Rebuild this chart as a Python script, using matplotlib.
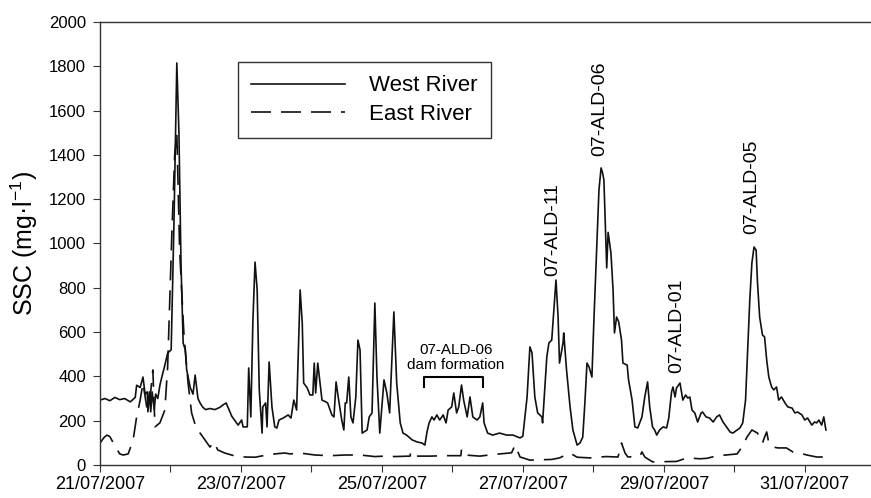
import matplotlib
matplotlib.use('Agg')
import numpy as np
import matplotlib.pyplot as plt

plt.rcParams['font.family'] = ['Liberation Sans', 'DejaVu Sans']
plt.rcParams['mathtext.fontset'] = 'custom'
plt.rcParams['mathtext.rm'] = 'Liberation Sans'
plt.rcParams['mathtext.it'] = 'Liberation Sans:italic'

# time in days since 21/07/2007 00:00, SSC in mg/l
west_t = [0.00, 0.07, 0.14, 0.21, 0.28, 0.35, 0.43, 0.50, 0.52, 0.57, 0.61, 0.64, 0.67, 0.68,
          0.70, 0.72, 0.74, 0.77, 0.79, 0.82, 0.85, 0.88, 0.92, 0.96, 1.01, 1.05, 1.09, 1.12,
          1.15, 1.18, 1.21, 1.23, 1.28, 1.32, 1.35, 1.39, 1.42, 1.46, 1.50, 1.56, 1.63, 1.70,
          1.74, 1.79, 1.83, 1.87, 1.96, 2.01, 2.03, 2.09, 2.11, 2.14, 2.17, 2.20, 2.23, 2.26,
          2.30, 2.31, 2.35, 2.37, 2.40, 2.44, 2.48, 2.51, 2.54, 2.60, 2.67, 2.71, 2.75, 2.79,
          2.84, 2.87, 2.89, 2.94, 2.98, 3.02, 3.04, 3.06, 3.09, 3.15, 3.21, 3.23, 3.29, 3.32,
          3.35, 3.38, 3.43, 3.46, 3.48, 3.50, 3.53, 3.56, 3.59, 3.63, 3.66, 3.69, 3.72, 3.79,
          3.82, 3.86, 3.90, 3.93, 3.97, 4.03, 4.07, 4.11, 4.17, 4.21, 4.26, 4.30, 4.35, 4.43,
          4.50, 4.57, 4.61, 4.64, 4.67, 4.71, 4.74, 4.78, 4.82, 4.87, 4.91, 4.94, 4.99, 5.02,
          5.06, 5.09, 5.13, 5.16, 5.21, 5.25, 5.29, 5.35, 5.39, 5.43, 5.45, 5.50, 5.57, 5.67,
          5.77, 5.86, 5.96, 6.00, 6.06, 6.10, 6.13, 6.17, 6.21, 6.27, 6.28, 6.31, 6.34, 6.37,
          6.41, 6.44, 6.47, 6.50, 6.52, 6.57, 6.58, 6.62, 6.67, 6.71, 6.77, 6.81, 6.85, 6.88,
          6.91, 6.94, 6.98, 7.01, 7.05, 7.08, 7.11, 7.13, 7.15, 7.18, 7.19, 7.21, 7.25, 7.28,
          7.30, 7.33, 7.36, 7.40, 7.42, 7.48, 7.50, 7.55, 7.59, 7.63, 7.69, 7.73, 7.77, 7.80,
          7.84, 7.87, 7.90, 7.94, 7.99, 8.04, 8.07, 8.11, 8.13, 8.16, 8.18, 8.23, 8.27, 8.31,
          8.34, 8.37, 8.40, 8.44, 8.48, 8.53, 8.55, 8.60, 8.65, 8.70, 8.75, 8.79, 8.84, 8.89,
          8.94, 8.98, 9.04, 9.08, 9.12, 9.16, 9.19, 9.22, 9.25, 9.28, 9.31, 9.33, 9.36, 9.40,
          9.43, 9.46, 9.49, 9.53, 9.56, 9.60, 9.63, 9.67, 9.72, 9.76, 9.82, 9.86, 9.90, 9.96,
          10.00, 10.04, 10.10, 10.14, 10.17, 10.20, 10.24, 10.27, 10.30]
west_ssc = [293, 300, 290, 305, 295, 300, 285, 305, 360, 350, 397, 320, 330, 240,
            330, 240, 330, 250, 320, 300, 360, 400, 450, 505, 520, 1100, 1815, 1500,
            900, 550, 520, 430, 350, 320, 406, 300, 280, 260, 250, 255, 250, 260,
            270, 280, 250, 220, 180, 203, 172, 172, 438, 217, 655, 916, 790, 339,
            144, 262, 280, 172, 465, 262, 172, 167, 203, 212, 226, 212, 293, 248,
            790, 641, 370, 348, 316, 316, 460, 325, 460, 293, 284, 280, 226, 217,
            375, 307, 203, 158, 280, 280, 397, 217, 190, 307, 564, 519, 144, 158,
            217, 235, 731, 397, 144, 384, 325, 235, 691, 370, 190, 144, 135, 113,
            104, 99, 90, 149, 190, 217, 203, 226, 203, 226, 190, 248, 262, 325,
            235, 262, 361, 293, 217, 307, 217, 203, 217, 280, 190, 144, 135, 144,
            135, 135, 122, 130, 307, 533, 506, 307, 235, 217, 190, 339, 488, 551,
            564, 700, 835, 668, 460, 551, 596, 429, 262, 158, 90, 99, 126, 280,
            460, 442, 397, 668, 1002, 1242, 1341, 1320, 1287, 1000, 890, 1050, 957, 790,
            596, 668, 646, 564, 460, 451, 384, 293, 172, 167, 217, 307, 375, 262,
            172, 158, 135, 158, 172, 167, 212, 330, 352, 307, 348, 370, 293, 316,
            302, 307, 248, 235, 194, 235, 239, 217, 212, 194, 217, 226, 194, 172,
            149, 144, 158, 167, 190, 293, 519, 745, 912, 984, 970, 821, 668, 587,
            578, 474, 397, 352, 339, 352, 293, 307, 280, 262, 257, 235, 239, 226,
            203, 212, 180, 194, 190, 203, 180, 217, 158]

east_t = [0.00, 0.06, 0.10, 0.14, 0.18, 0.23, 0.28, 0.33, 0.40, 0.47, 0.52, 0.57, 0.61, 0.67,
          0.71, 0.75, 0.78, 0.85, 0.92, 0.96, 1.02, 1.06, 1.09, 1.13, 1.19, 1.25, 1.30, 1.36,
          1.42, 1.49, 1.56, 1.62, 1.67, 1.77, 1.91, 2.06, 2.20, 2.30, 2.48, 2.62, 2.70, 2.84,
          3.05, 3.26, 3.48, 3.69, 3.90, 4.04, 4.18, 4.40, 4.41, 4.45, 4.68, 4.89, 5.12, 5.13,
          5.18, 5.39, 5.60, 5.74, 5.84, 5.89, 5.96, 6.10, 6.41, 6.52, 6.67, 6.77, 6.95, 7.18,
          7.35, 7.40, 7.45, 7.49, 7.66, 7.69, 7.73, 7.84, 8.18, 8.33, 8.51, 8.61, 8.75, 9.04,
          9.11, 9.18, 9.25, 9.33, 9.40, 9.43, 9.46, 9.49, 9.55, 9.62, 9.74, 9.83, 9.93, 10.03,
          10.17, 10.31]
east_ssc = [99, 125, 135, 128, 105, 77, 50, 45, 50, 113, 217, 293, 370, 248,
            300, 429, 172, 190, 248, 443, 1047, 1400, 1500, 970, 596, 370, 235, 172,
            144, 113, 81, 104, 68, 54, 41, 36, 35, 41, 50, 54, 50, 54,
            45, 42, 45, 45, 38, 40, 38, 40, 59, 40, 40, 42, 42, 72,
            45, 40, 48, 52, 55, 90, 36, 22, 25, 32, 54, 35, 32, 38,
            36, 99, 54, 36, 40, 59, 36, 14, 16, 32, 28, 30, 41, 50,
            81, 126, 158, 144, 99, 126, 149, 99, 81, 77, 77, 59, 54, 45,
            36, 36]

tick_days = list(range(11))
tick_labels = ['21/07/2007', '', '23/07/2007', '', '25/07/2007', '', '27/07/2007', '',
               '29/07/2007', '', '31/07/2007']

# event labels: text, day, bottom of text (mg/l)
event_names = ['07-ALD-11', '07-ALD-06', '07-ALD-01', '07-ALD-05']
event_days = [6.43, 7.09, 8.18, 9.25]
event_y = [855, 1395, 415, 1043]

fig = plt.figure(figsize=(8.71, 4.98), dpi=100)
ax = fig.add_axes([0.1148, 0.0663, 0.8852, 0.8896])

ax.plot(west_t, west_ssc, color='#111111', lw=1.2, label='West River')
ax.plot(east_t, east_ssc, color='#111111', lw=1.2, dashes=(12, 6), label='East River')

ax.set_xlim(0, 10.94)
ax.set_ylim(0, 2000)
ax.set_yticks(np.arange(0, 2001, 200))
ax.set_xticks(tick_days)
ax.set_xticklabels(tick_labels)
ax.tick_params(axis='y', labelsize=12, length=5, pad=5, color='#333333')
ax.tick_params(axis='x', labelsize=13, length=5, pad=3, color='#333333')

for s in ['left', 'top', 'bottom']:
    ax.spines[s].set_color('#333333')
    ax.spines[s].set_linewidth(1.0)
ax.spines['right'].set_visible(False)

ax.set_ylabel('SSC (mg·l$^{-1}$)', fontsize=18)
ax.yaxis.set_label_coords(-0.078, 0.5)

for name, d, y in zip(event_names, event_days, event_y):
    ax.text(d, y, name, rotation=90, ha='center', va='bottom', fontsize=14)

# dam formation bracket
ax.plot([4.6, 4.6, 5.43, 5.43], [350, 397, 397, 350], color='black', lw=1.5)
ax.text(5.05, 418, '07-ALD-06\ndam formation', ha='center', va='bottom',
        fontsize=11, linespacing=1.1)

leg = ax.legend(loc='upper left', bbox_to_anchor=(238 / 871, 1 - 62 / 498),
                bbox_transform=fig.transFigure, fontsize=16, frameon=True,
                fancybox=False, handlelength=4.2, handletextpad=1.1,
                borderpad=0.6, labelspacing=0.35, borderaxespad=0)
leg.get_frame().set_edgecolor('black')
leg.get_frame().set_linewidth(1.0)

plt.savefig('out.png', dpi=100)
plt.close()
